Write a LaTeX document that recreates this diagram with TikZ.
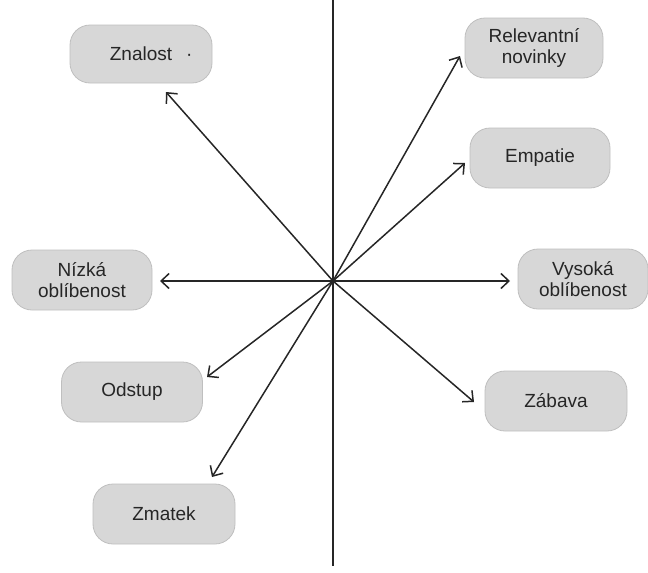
\documentclass[tikz,border=0pt]{standalone}
\usepackage{fontspec}
\setmainfont{Liberation Sans}
\usetikzlibrary{arrows.meta}
\begin{document}
\begin{tikzpicture}[x=1pt,y=-1pt,
  box/.style={draw=gray!50, fill=gray!31, rounded corners=20pt, line width=0.8pt,
    minimum height=60pt, align=center, inner sep=0pt,
    font=\fontsize{19}{21}\selectfont, text=black!85},
  axisline/.style={line width=1.5pt, draw=black!85},
  ray/.style={axisline, -{Straight Barb[length=8pt,width=15pt,line width=1.5pt]}}]
\useasboundingbox (0,0) rectangle (648,573);

% concept boxes
\node[box, minimum width=142pt, minimum height=58pt] (zn) at (141,54) {Znalost\rlap{\hspace{14pt}·}};
\node[box, minimum width=138pt] (rel) at (534,48) {Relevantní\\novinky};
\node[box, minimum width=140pt] (emp) at (540,158) {Empatie};
\node[box, minimum width=140pt] (niz) at (82,280) {Nízká\\oblíbenost};
\node[box, minimum width=130pt] (vys) at (583,279) {Vysoká\\oblíbenost};
\node[box, minimum width=141pt] (ods) at (132,392) {Odstup};
\node[box, minimum width=142pt] (zab) at (556,401) {Zábava};
\node[box, minimum width=142pt] (zma) at (164,514) {Zmatek};

% centre, vertical axis and arrow ends
\coordinate (c) at (333,281);
\coordinate (axtop) at (333,0);
\coordinate (axbot) at (333,566);
\coordinate (tZn) at (166,92);
\coordinate (tRel) at (460,56);
\coordinate (tEmp) at (465,163);
\coordinate (tNiz) at (160,281);
\coordinate (tVys) at (510,281);
\coordinate (tOds) at (207,377);
\coordinate (tZab) at (474,402);
\coordinate (tZma) at (212,477);

\draw[axisline] (axtop) -- (axbot);
\foreach \t in {tZn,tRel,tEmp,tNiz,tVys,tOds,tZab,tZma}
  \draw[ray] (c) -- (\t);
\end{tikzpicture}
\end{document}
